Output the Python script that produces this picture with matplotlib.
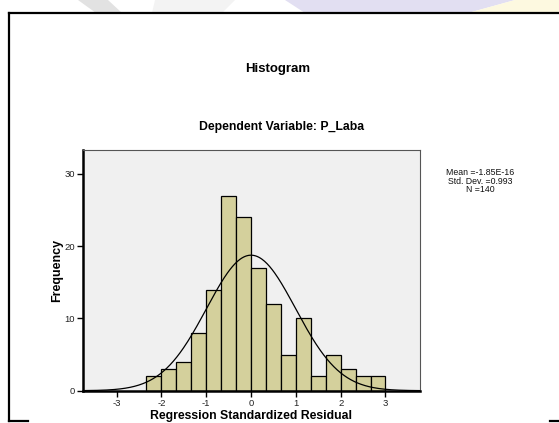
import numpy as np
import matplotlib.pyplot as plt
from matplotlib.lines import Line2D
from matplotlib.patches import Polygon

plt.rcParams['font.family'] = ['Liberation Sans', 'DejaVu Sans']

# histogram data (bin width 1/3)
bin_left = [-7/3, -2, -5/3, -4/3, -1, -2/3, -1/3, 0, 1/3, 2/3, 1, 4/3, 5/3, 2, 7/3, 8/3]
counts = [2, 3, 4, 8, 14, 27, 24, 17, 12, 5, 10, 2, 5, 3, 2, 2]
bin_width = 1/3

# fitted normal shown by the chart
mean = -1.85e-16
std = 0.993
n = 140

xticks = [-3, -2, -1, 0, 1, 2, 3]
yticks = [0, 10, 20, 30]

W, H = 559, 423
fig = plt.figure(figsize=(W/100, H/100), dpi=100)
fig.patch.set_facecolor('white')

def fx(px):
    return px / W

def fy(py):
    return (H - py) / H

# faint watermark at the top edge
wm = [
    ([(78, 0), (108, 0), (122, 13), (96, 13)], '#e2e2e2'),
    ([(155, 0), (235, 0), (222, 13), (152, 13)], '#f3f3f3'),
    ([(285, 0), (515, 0), (468, 13), (305, 13)], '#e2dff2'),
    ([(468, 13), (515, 0), (559, 0), (559, 13)], '#fdf9e0'),
]
for pts, c in wm:
    fig.add_artist(Polygon([(fx(a), fy(b)) for a, b in pts], closed=True,
                           transform=fig.transFigure, facecolor=c, edgecolor='none', zorder=0))

# outer frame
frame_kw = dict(transform=fig.transFigure, color='black', linewidth=1.6)
fig.add_artist(Line2D([fx(9), fx(9)], [fy(13), fy(421)], **frame_kw))
fig.add_artist(Line2D([fx(9), fx(559)], [fy(13), fy(13)], **frame_kw))
fig.add_artist(Line2D([fx(9), fx(28)], [fy(421), fy(421)], **frame_kw))
fig.add_artist(Line2D([fx(550), fx(559)], [fy(421), fy(421)], **frame_kw))

ax = fig.add_axes([fx(83), fy(390.7), fx(420) - fx(83), fy(150) - fy(390.7)])
ax.set_facecolor('#f0f0f0')

ax.bar(bin_left, counts, width=bin_width, align='edge', color='#d4d09c',
       edgecolor='black', linewidth=0.9, zorder=2)

xlim = (-3.75, 3.77)
xs = np.linspace(xlim[0], xlim[1], 400)
curve = n * bin_width * np.exp(-0.5 * ((xs - mean) / std) ** 2) / (std * np.sqrt(2 * np.pi))
ax.plot(xs, curve, color='black', linewidth=0.9, zorder=3)

ax.set_xlim(*xlim)
ax.set_ylim(0, 33.3)
ax.set_xticks(xticks)
ax.set_xticklabels([str(v) for v in xticks])
ax.set_yticks(yticks)
ax.tick_params(axis='both', direction='out', length=4, width=1, color='black',
               labelsize=6.8, labelcolor='#222222', pad=2)

ax.spines['left'].set_linewidth(1.8)
ax.spines['bottom'].set_linewidth(1.8)
ax.spines['top'].set_linewidth(0.8)
ax.spines['right'].set_linewidth(0.8)
ax.spines['top'].set_color('#555555')
ax.spines['right'].set_color('#555555')

ax.set_ylabel('Frequency', fontsize=9, fontweight='bold', labelpad=1)

fig.text(fx(278), fy(69), 'Histogram', ha='center', va='center',
         fontsize=9.5, fontweight='bold')
fig.text(fx(282), fy(127), 'Dependent Variable: P_Laba', ha='center', va='center',
         fontsize=8.8, fontweight='bold')
fig.text(fx(251), fy(422), 'Regression Standardized Residual', ha='center', va='bottom',
         fontsize=8.8, fontweight='bold')

fig.text(fx(480), fy(168), 'Mean =-1.85E-16\nStd. Dev. =0.993\nN =140',
         ha='center', va='top', fontsize=6.3, linespacing=0.95, color='#111111')

fig.savefig('out.png', dpi=100)
